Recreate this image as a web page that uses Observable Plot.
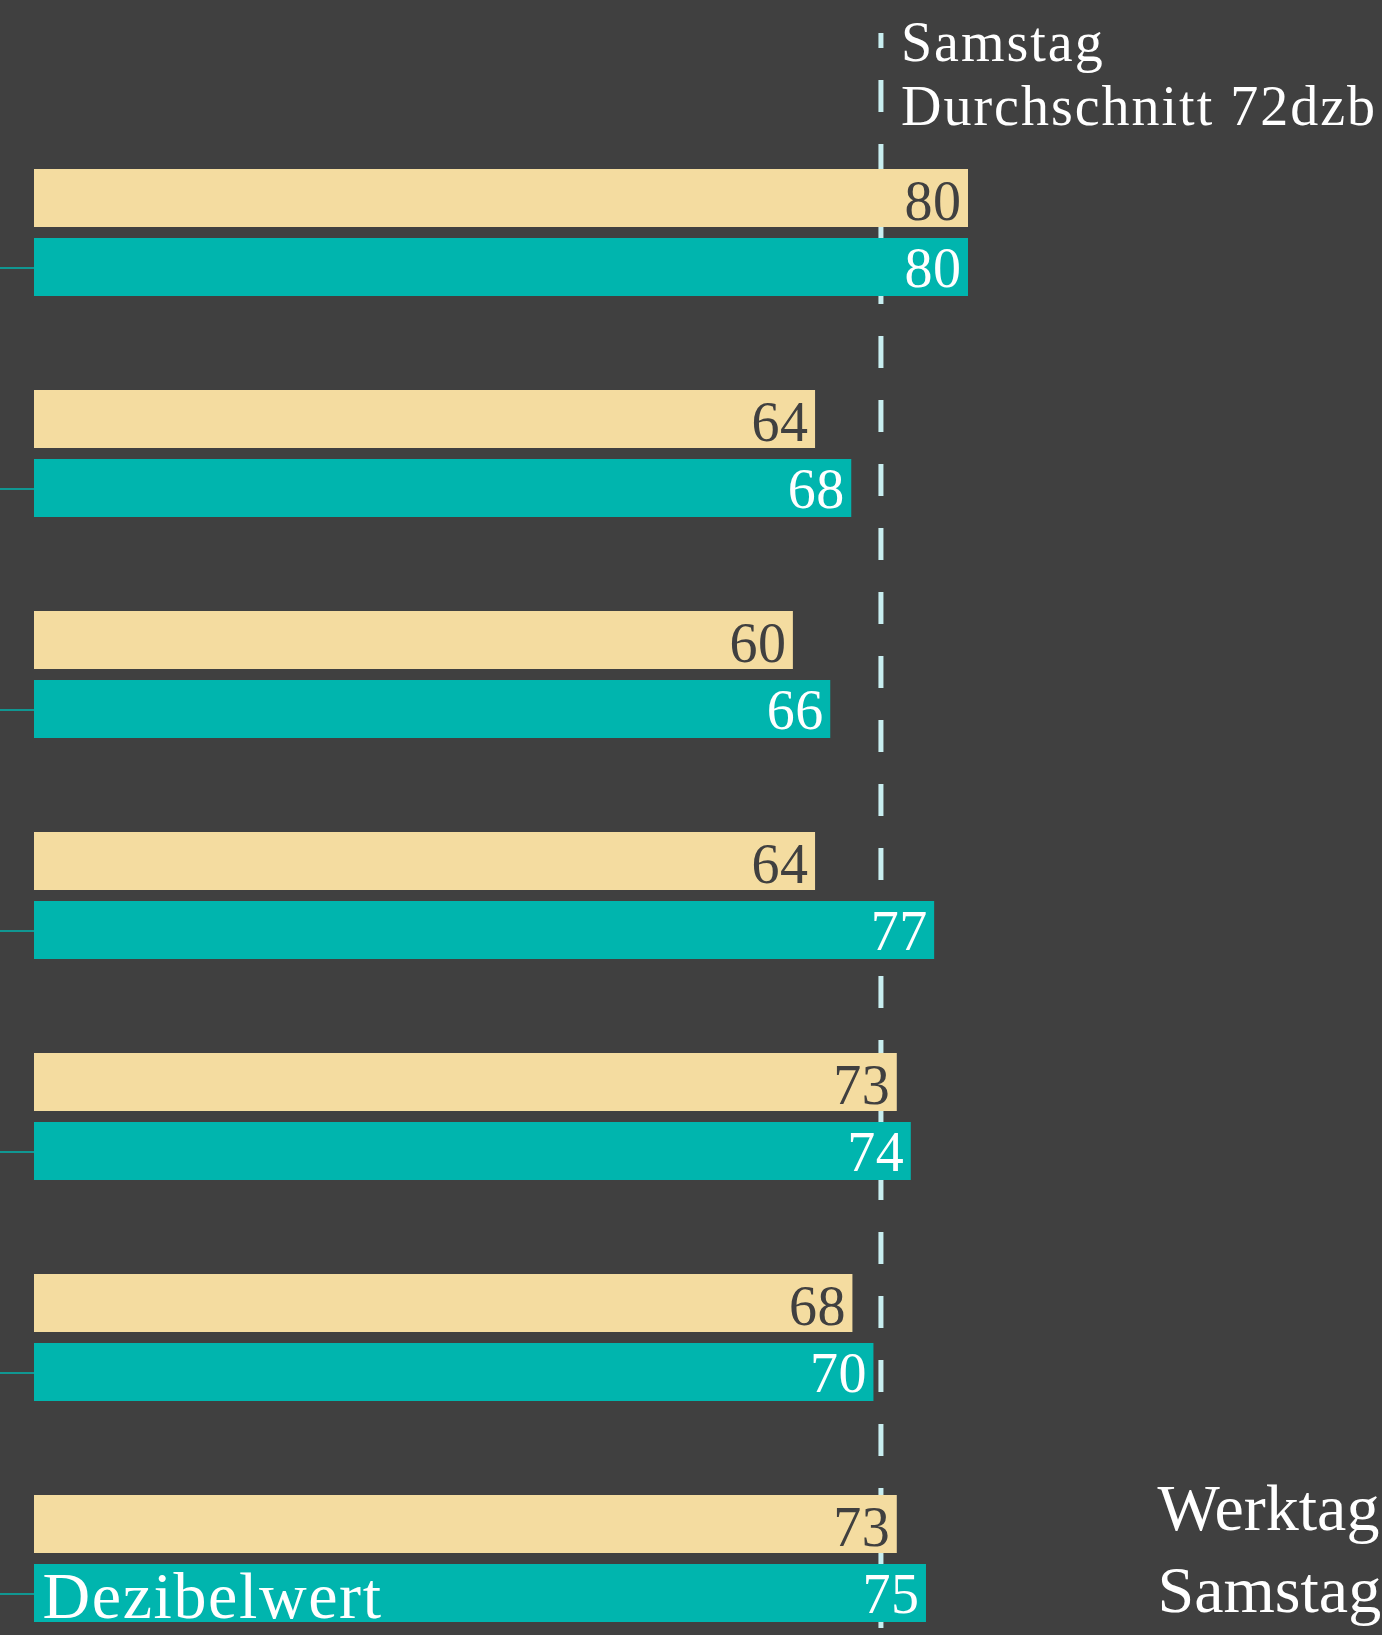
<!DOCTYPE html>
<html>
<head>
<meta charset="utf-8">
<script src="https://cdn.jsdelivr.net/npm/d3@7"></script>
<script src="https://cdn.jsdelivr.net/npm/@observablehq/plot@0.6"></script>
<style>
  html, body { margin: 0; padding: 0; background: #404040; }
  #chart { width: 1382px; height: 1635px; overflow: hidden; }
</style>
</head>
<body>
<div id="chart"></div>
<script>
// ---- data ----
const categories = ["Messpunkt 1", "Messpunkt 2", "Messpunkt 3", "Messpunkt 4", "Messpunkt 5", "Messpunkt 6", "Messpunkt 7"];
const seriesNames = ["Werktag", "Samstag"];
// printed values
const werktagLabel = [80, 64, 60, 64, 73, 68, 73];
const samstagLabel = [80, 68, 66, 77, 74, 70, 75];
// bar lengths as drawn (dB on the x axis)
const werktagBar = [80.0, 66.9, 65.0, 66.9, 73.9, 70.1, 73.9];
const samstagBar = [80.0, 70.0, 68.2, 77.1, 75.1, 71.9, 76.4];
// Samstag average
const samstagAverage = 72;
const samstagAverageLine = 72.5;
const axisLabel = "Dezibelwert";
const xDomain = [0, 80];

// ---- colours ----
const bg = "#404040";
const tan = "#f4dca0";
const teal = "#00b5ae";
const lineColor = "#c8eef0";

const rows = categories.map((c, i) => ({
  cat: c,
  wBar: werktagBar[i], sBar: samstagBar[i],
  wLab: werktagLabel[i], sLab: samstagLabel[i]
}));

const bandStep = 221, bandH = 127;
const titleText = `${seriesNames[1]}\nDurchschnitt ${samstagAverage}dzb`;

const plot = Plot.plot({
  width: 1382,
  height: 1635,
  marginTop: 33,
  marginBottom: 7,
  marginLeft: 34,
  marginRight: 0,
  style: { background: bg, fontFamily: "'Liberation Serif', serif", fontSize: "54px", color: "white" },
  x: { domain: xDomain, range: [34, 968], axis: null },
  y: { type: "band", domain: categories, range: [169, 169 + 6 * bandStep + bandH], paddingInner: (bandStep - bandH) / bandStep, paddingOuter: 0, round: false, axis: null },
  marks: [
    Plot.ruleX([samstagAverageLine], { stroke: lineColor, strokeWidth: 5, strokeDasharray: "32,32", strokeDashoffset: 17 }),
    Plot.link(rows, { x1: () => -4, x2: () => 0, y1: "cat", y2: "cat", dy: 35, stroke: teal, strokeWidth: 1.6 }),
    Plot.barX(rows, { x: "wBar", y: "cat", fill: tan, insetBottom: 69 }),
    Plot.barX(rows, { x: "sBar", y: "cat", fill: teal, insetTop: 69 }),
    Plot.text(rows, { x: "wBar", y: "cat", text: d => String(d.wLab), textAnchor: "end", dx: -7, dy: -31, fill: bg, fontSize: 56 }),
    Plot.text(rows, { x: "sBar", y: "cat", text: d => String(d.sLab), textAnchor: "end", dx: -7, dy: 36.5, fill: "white", fontSize: 56 }),
    Plot.text([titleText], {
      x: samstagAverageLine, frameAnchor: "top", textAnchor: "start", lineAnchor: "bottom",
      lineHeight: 64 / 56, dx: 20, dy: 91, fill: "white", fontSize: 56
    }),
    Plot.text([axisLabel], {
      frameAnchor: "bottom-left", textAnchor: "start", lineAnchor: "bottom",
      dx: 8, dy: -11, fill: "white", fontSize: 66
    }),
    Plot.text([seriesNames.join("\n")], {
      frameAnchor: "bottom-right", textAnchor: "start", lineAnchor: "bottom",
      lineHeight: 82 / 66, dx: -225, dy: -17, fill: "white", fontSize: 66
    })
  ]
});

// widen letter spacing to mimic the wider original typeface
plot.querySelectorAll("text").forEach(el => {
  const s = el.textContent;
  if (s.startsWith("Samstag") && s.includes("Durchschnitt")) el.setAttribute("letter-spacing", "2");
  else if (s === axisLabel) el.setAttribute("letter-spacing", "1.6");
  else if (/^\d+$/.test(s)) el.setAttribute("letter-spacing", "0.5");
});
document.getElementById("chart").appendChild(plot);
</script>
</body>
</html>
